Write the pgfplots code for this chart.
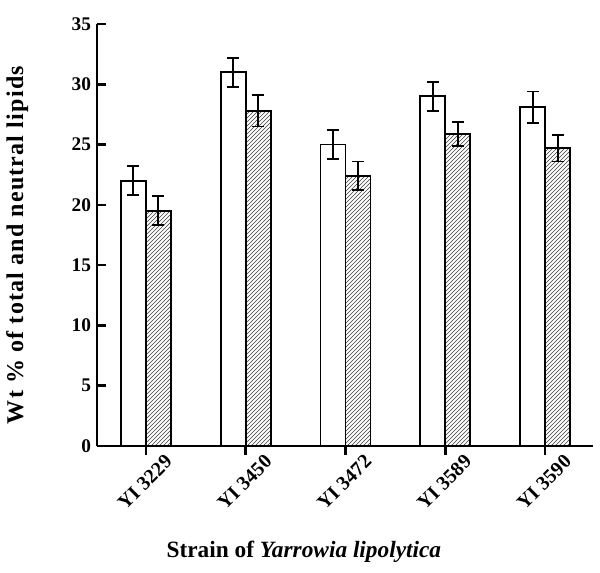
\documentclass[border=0pt]{standalone}
\usepackage{pgfplots}
\pgfplotsset{compat=1.18}
\usetikzlibrary{patterns}
\usepackage{fontspec}
\setmainfont{Liberation Serif}

\begin{document}
\begin{tikzpicture}
\begin{axis}[
  scale only axis,
  width=372pt, height=316.5pt,
  ybar=0pt,
  bar width=0.25,
  xmin=-0.49, xmax=4.48,
  ymin=0, ymax=35,
  axis lines*=left,
  axis line style={line width=2pt},
  xtick={0,1,2,3,4},
  xticklabels={YI 3229,YI 3450,YI 3472,YI 3589,YI 3590},
  ytick={0,5,...,35},
  minor tick num=0,
  xtick align=outside,
  ytick align=inside,
  major tick length=7pt,
  tick style={line width=2pt, black},
  /pgf/number format/assume math mode=true,
  tick label style={font=\bfseries\fontsize{14.5}{16}\selectfont},
  x tick label style={font=\bfseries\fontsize{15}{17}\selectfont, rotate=45, anchor=north east, xshift=14pt, yshift=-5pt},
  y tick label style={xshift=-1pt},
  ylabel={Wt \% of total and neutral lipids},
  xlabel={Strain of \textit{Yarrowia lipolytica}},
  every axis y label/.style={at={(axis description cs:-0.161,0.476)}, rotate=90, anchor=center,
    font=\bfseries\fontsize{18}{20}\selectfont\addfontfeature{LetterSpace=5}},
  every axis x label/.style={at={(axis description cs:0.417,0)}, anchor=center, yshift=-79.5pt,
    font=\bfseries\fontsize{17.5}{20}\selectfont},
  error bars/error bar style={line width=1.4pt, black},
  error bars/error mark options={rotate=90, mark size=4.5pt, line width=1.4pt, black},
]
\addplot[draw=black, fill=white, line width=1.4pt,
  error bars/.cd, y dir=both, y explicit]
  coordinates {(0,22.0) +- (0,1.2) (1,31.0) +- (0,1.2) (2,25.0) +- (0,1.2) (3,29.0) +- (0,1.2) (4,28.1) +- (0,1.3)};
\addplot[draw=black, pattern=north east lines, pattern color=black!75, line width=1.4pt,
  error bars/.cd, y dir=both, y explicit]
  coordinates {(0,19.5) +- (0,1.2) (1,27.8) +- (0,1.3) (2,22.4) +- (0,1.2) (3,25.9) +- (0,1.0) (4,24.7) +- (0,1.1)};
\end{axis}
\pgfresetboundingbox
\path[use as bounding box] (-72.75pt,-95.25pt) rectangle (377.25pt,334.5pt);
\end{tikzpicture}
\end{document}
